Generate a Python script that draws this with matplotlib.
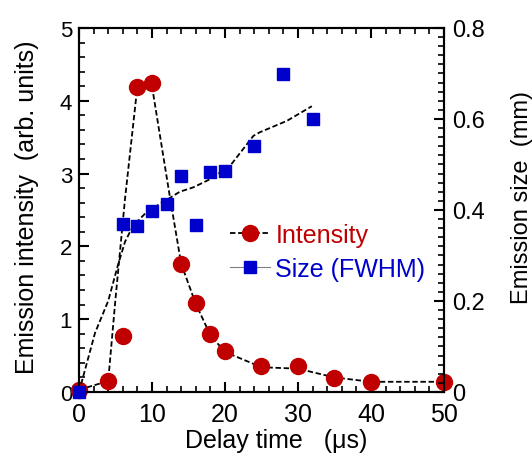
import matplotlib.pyplot as plt
from matplotlib.lines import Line2D
from matplotlib.ticker import MultipleLocator

plt.rcParams['font.family'] = ['Liberation Sans', 'DejaVu Sans']

# 发光强度 (左轴)
delay_int = [0, 4, 6, 8, 10, 14, 16, 18, 20, 25, 30, 35, 40, 50]
intensity = [0.03, 0.15, 0.77, 4.19, 4.25, 1.76, 1.22, 0.79, 0.56, 0.35, 0.35, 0.19, 0.14, 0.14]

# 发光尺寸 FWHM (右轴, mm)
delay_size = [0, 6, 8, 10, 12, 14, 16, 18, 20, 24, 28, 32]
size_fwhm = [0.0, 0.37, 0.365, 0.398, 0.413, 0.475, 0.367, 0.483, 0.485, 0.541, 0.698, 0.60]

# 虚线趋势线
int_curve_x = [0, 4, 5, 6.3, 8, 10, 12.5, 14, 16, 18, 20, 25, 30, 35, 40, 50]
int_curve_y = [0.03, 0.15, 1.28, 2.65, 4.2, 4.2, 2.65, 1.76, 1.21, 0.78, 0.55, 0.34, 0.32, 0.2, 0.14, 0.14]
size_curve_x = [0, 2.2, 4, 5.3, 6.3, 7.4, 9.3, 12.2, 13.8, 15.7, 18, 20.7, 23.9, 24.8, 28.5, 31.9]
size_curve_y = [0, 0.13, 0.2, 0.277, 0.33, 0.365, 0.396, 0.424, 0.44, 0.45, 0.468, 0.497, 0.563, 0.571, 0.596, 0.628]

red = '#c00000'
blue = '#0000cc'

fig = plt.figure(figsize=(5.32, 4.6), dpi=100)
ax = fig.add_axes([0.1485, 0.1457, 0.686, 0.7913])
ax2 = ax.twinx()

ax.plot(int_curve_x, int_curve_y, color='black', lw=1.3, dashes=(3, 1.5))
ax.plot(delay_int, intensity, 'o', color=red, ms=11.5, mec=red, clip_on=False, zorder=3)

ax2.plot(size_curve_x, size_curve_y, color='black', lw=1.3, dashes=(3, 1.5))
ax2.plot(delay_size, size_fwhm, 's', color=blue, ms=9, mec=blue, clip_on=False, zorder=3)

ax.set_xlim(0, 50)
ax.set_ylim(0, 5)
ax2.set_ylim(0, 0.8)

ax.xaxis.set_major_locator(MultipleLocator(10))
ax.xaxis.set_minor_locator(MultipleLocator(2))
ax.yaxis.set_major_locator(MultipleLocator(1))
ax.yaxis.set_minor_locator(MultipleLocator(0.2))
ax2.set_yticks([0, 0.2, 0.4, 0.6, 0.8])
ax2.set_yticklabels(['0', '0.2', '0.4', '0.6', '0.8'])
ax2.yaxis.set_minor_locator(MultipleLocator(0.02))

ax.tick_params(axis='x', which='both', direction='in', top=True, labelsize=18, pad=7)
ax.tick_params(axis='y', which='both', direction='in', right=False, labelsize=16, pad=5)
ax.tick_params(which='major', length=7, width=1.5)
ax.tick_params(which='minor', length=4, width=1.2)
ax2.tick_params(axis='y', which='both', direction='in', labelsize=17, pad=6)
ax2.tick_params(which='major', length=7, width=1.5)
ax2.tick_params(which='minor', length=4, width=1.2)
for sp in ax.spines.values():
    sp.set_linewidth(1.5)
for sp in ax2.spines.values():
    sp.set_linewidth(1.5)

ax.set_xlabel('Delay time   (\u03bcs)', fontsize=18)
ax.xaxis.set_label_coords(0.54, -0.1)
ax.set_ylabel('Emission intensity  (arb. units)', fontsize=18)
ax.yaxis.set_label_coords(-0.11, 0.51)
ax2.set_ylabel('Emission size  (mm)', fontsize=17)
ax2.yaxis.set_label_coords(1.185, 0.537)

handles = [
    Line2D([], [], color='black', lw=1.3, dashes=(3, 1.5), marker='o', ms=11.5, mfc=red, mec=red),
    Line2D([], [], color='gray', lw=0.8, marker='s', ms=9, mfc=blue, mec=blue),
]
ax2.legend(handles, ['Intensity', 'Size (FWHM)'], loc='center left',
           bbox_to_anchor=(0.415, 0.385), frameon=False, fontsize=18,
           handlelength=1.6, handletextpad=0.2, labelspacing=0.4,
           borderpad=0, borderaxespad=0, labelcolor=[red, blue])

fig.savefig('out.png', dpi=100)
